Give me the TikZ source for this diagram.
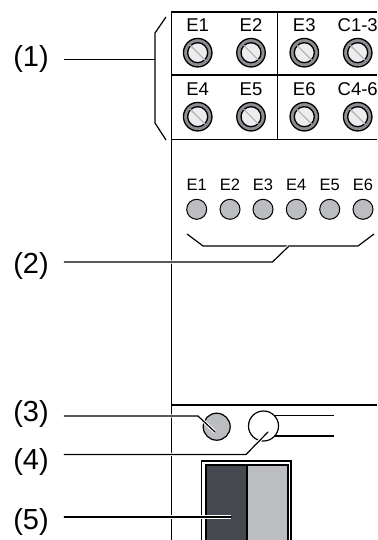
\documentclass[tikz,border=0pt]{standalone}
\usepackage{fontspec}
\setmainfont{Liberation Sans}
\usetikzlibrary{calc}
\definecolor{ledgray}{HTML}{BCBDC0}
\definecolor{rockdark}{HTML}{46484F}
\definecolor{screwgray}{HTML}{8C8D90}
\definecolor{screwface}{HTML}{ECEDEE}
\tikzset{
	wire/.style={line width=1.2pt},
	leader/.style={line width=1.2pt, line cap=round, preaction={draw=white, line width=3.2pt}},
	callout/.style={font=\fontsize{29}{29}\selectfont, minimum width=66pt, inner sep=0pt, align=center},
	term/.style={font=\fontsize{18.5}{18.5}\selectfont, inner sep=0pt, text height=0.72em, text depth=0pt},
	ledname/.style={font=\fontsize{16.5}{16.5}\selectfont, inner sep=0pt, text height=0.72em, text depth=0pt},
	screw/.style={draw, line width=1.3pt, circle, fill=screwgray, minimum size=28.5pt, inner sep=0pt},
	face/.style={draw, line width=1.3pt, circle, fill=screwface, minimum size=20pt, inner sep=0pt},
	led/.style={draw, line width=1pt, circle, fill=ledgray, minimum size=20pt, inner sep=0pt},
}
\begin{document}
\begin{tikzpicture}[x=1pt,y=-1pt]

\useasboundingbox (0,0) rectangle (377,540);

% Housing
\draw[wire] (377,12) -- (171.5,12) -- (171.5,540);
\draw[wire] (171.5,75) -- (377,75);
\draw[wire] (171.5,139.5) -- (377,139.5);
\draw[wire] (277.7,12) -- (277.7,139.5);
\draw[wire] (171.5,405) -- (377,405);

% Terminals
\foreach \n/\x/\y/\t in {1/197.7/52.7/E1,2/251/52.7/E2,3/304.3/52.7/E3,4/357.7/52.7/C1-3,
	5/197.7/116.7/E4,6/251/116.7/E5,7/304.3/116.7/E6,8/357.7/116.7/C4-6}{
	\node[screw] (s\n) at (\x,\y){};
	\node[face] (f\n) at (s\n){};
	\draw[line width=1.1pt, gray!60] (f\n.north west) -- (f\n.south east);
	\node[term] (t\n) at (\x,\y-24.5){\t};
}

% LEDs
\foreach \n/\x in {1/196.7,2/230,3/263,4/296.3,5/329.7,6/363}{
	\node[led] (d\n) at (\x,209.3){};
	\node[ledname] (e\n) at (\x,186.5){E\n};
}

% Status LED and button
\node[draw, line width=1.2pt, circle, fill=ledgray, minimum size=27pt, inner sep=0pt] (ledthree) at (216.7,426.7){};
\node[draw, line width=1.2pt, circle, fill=white, minimum size=30pt, inner sep=0pt] (button) at (263.5,426){};
\coordinate (buttona) at (334,415.5);
\coordinate (buttonb) at (334,436);
\draw[wire] (buttona) -- (274.5,415.5);
\draw[wire] (buttonb) -- (274.5,436);

% Rocker
\draw[wire] (201.7,545) -- (201.7,461) -- (291,461) -- (291,545);
\draw[wire, fill=rockdark] (206,545) -- (206,465) -- (247,465) -- (247,545) -- cycle;
\draw[wire, fill=ledgray] (247,545) -- (247,465) -- (288,465) -- (288,545) -- cycle;

% Callouts
\node[callout] (c1) at (31,59){(1)};
\node[callout] (c2) at (31,265.5){(2)};
\node[callout] (c3) at (31,414){(3)};
\node[callout] (c4) at (31,461.5){(4)};
\node[callout] (c5) at (31,521.5){(5)};

% Brackets
\coordinate (bl) at (155,59.5);
\draw[wire] (166,17) -- (155,33) -- (155,123) -- (166,140);
\draw[wire] ([yshift=-0.5pt]c1.east) -- (bl);

\coordinate (br) at (289,246);
\draw[wire] (187,234) -- (203,246) -- (358,246) -- (374,234);
\draw[leader] ([yshift=3.5pt]c2.east) -- (272.5,262) -- (br);

\coordinate (pthree) at (215,432);
\coordinate (pfour) at (268,432);
\coordinate (pfive) at (231,517);
\draw[leader] ([yshift=-2pt]c3.east) -- (198,416) -- (pthree);
\draw[leader] ([yshift=7pt]c4.east) -- (246,454.5) -- (pfour);
\draw[leader] ([yshift=4.5pt]c5.east) -- (pfive);

\end{tikzpicture}
\end{document}
